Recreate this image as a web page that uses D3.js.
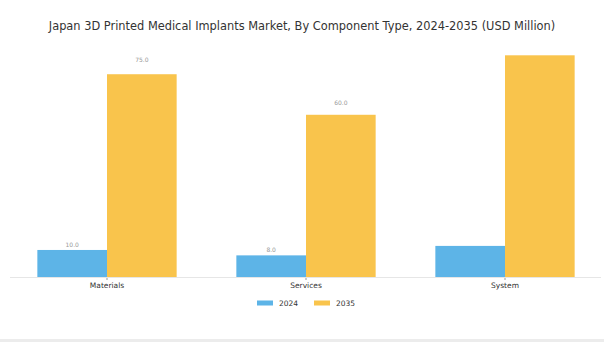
<!DOCTYPE html>
<html>
<head>
<meta charset="utf-8">
<script src="https://cdn.jsdelivr.net/npm/d3@7"></script>
<style>
  html, body { margin: 0; padding: 0; background: #fff; }
  svg { display: block; font-family: "DejaVu Sans", sans-serif; }
</style>
</head>
<body>
<div id="chart"></div>
<script>
  const categories = ['Materials', 'Services', 'System'];
  const seriesNames = ['2024', '2035'];
  const values2024 = [10.0, 8.0, 11.5];
  const values2035 = [75.0, 60.0, 82.0];
  // the reference only labels the first two groups
  const showLabel = [true, true, false];

  const colors = { '2024': '#5DB4E7', '2035': '#F9C44C' };

  const width = 604;
  const height = 342;
  const baseline = 277;

  const svg = d3.select('#chart').append('svg')
    .attr('width', width)
    .attr('height', height);

  svg.append('rect').attr('x', 0).attr('y', 339).attr('width', width).attr('height', 3).attr('fill', '#ececec');

  svg.append('text')
    .text('Japan 3D Printed Medical Implants Market, By Component Type, 2024-2035 (USD Million)')
    .attr('x', 302).attr('y', 30)
    .attr('text-anchor', 'middle')
    .attr('font-size', '11.4px')
    .attr('fill', '#333');

  const x = d3.scaleBand().domain(categories).range([7.5, 604.5]).paddingInner(0.3).paddingOuter(0.15);
  const x1 = d3.scaleBand().domain(seriesNames).range([0, x.bandwidth()]);
  const y = d3.scaleLinear().domain([0, d3.max(values2035)]).range([baseline, 55.3]);

  const rows = categories.map((c, i) => ({
    cat: c,
    label: showLabel[i],
    vals: [{ s: '2024', v: values2024[i] }, { s: '2035', v: values2035[i] }]
  }));

  const groups = svg.append('g').selectAll('.group')
    .data(rows).enter().append('g')
    .attr('class', 'group')
    .attr('transform', d => `translate(${x(d.cat)}, 0)`);

  groups.selectAll('rect')
    .data(d => d.vals).enter().append('rect')
    .attr('x', d => x1(d.s))
    .attr('y', d => y(d.v))
    .attr('width', x1.bandwidth())
    .attr('height', d => baseline - y(d.v))
    .attr('fill', d => colors[d.s]);

  groups.filter(d => d.label).selectAll('.val')
    .data(d => d.vals).enter().append('text')
    .attr('class', 'val')
    .text(d => d.v.toFixed(1))
    .attr('x', d => x1(d.s) + x1.bandwidth() / 2)
    .attr('y', d => y(d.v * 1.05) - 2)
    .attr('text-anchor', 'middle')
    .attr('font-size', '6px')
    .attr('fill', '#999');

  const axis = svg.append('g')
    .attr('transform', `translate(0, ${baseline})`)
    .call(d3.axisBottom(x).tickSize(3).tickPadding(3));
  axis.select('.domain').remove();
  axis.append('line').attr('x1', 10).attr('x2', 601).attr('y1', 0.5).attr('y2', 0.5).attr('stroke', '#e6e6e6');
  axis.selectAll('.tick line').attr('stroke', '#999');
  axis.selectAll('.tick text').attr('font-size', '7.5px').attr('fill', '#333').attr('font-family', '"DejaVu Sans", sans-serif');

  const legend = svg.append('g').attr('transform', 'translate(257, 303)');
  const items = legend.selectAll('.item')
    .data(seriesNames).enter().append('g')
    .attr('class', 'item')
    .attr('transform', (d, i) => `translate(${i * 57}, 0)`);
  items.append('rect').attr('x', 0).attr('y', -2.5).attr('width', 16).attr('height', 5).attr('fill', d => colors[d]);
  items.append('text').text(d => d)
    .attr('x', 22).attr('y', 0).attr('dy', '0.35em')
    .attr('font-size', '7.5px').attr('fill', '#333');
</script>
</body>
</html>
